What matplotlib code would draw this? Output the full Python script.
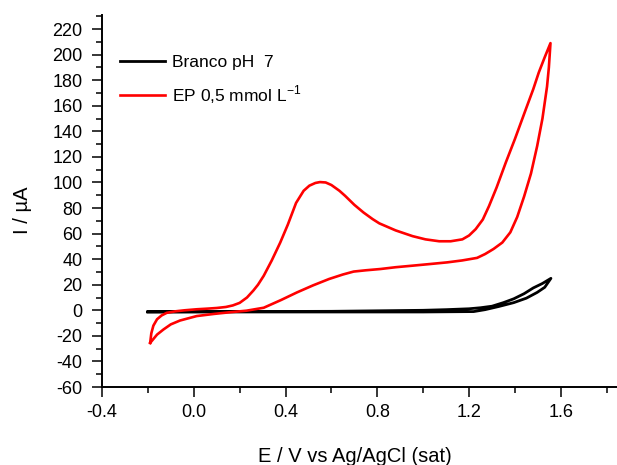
import numpy as np
import matplotlib
matplotlib.use("Agg")
import matplotlib.pyplot as plt
from matplotlib.ticker import MultipleLocator

plt.rcParams["font.family"] = ["Liberation Sans", "DejaVu Sans"]
plt.rcParams["mathtext.fontset"] = "custom"
plt.rcParams["mathtext.rm"] = "Liberation Sans"
plt.rcParams["axes.unicode_minus"] = False

# Voltamograma do branco (ida e volta)
e_branco = [-0.2, 0.0, 0.2, 0.6, 1.0, 1.1, 1.2, 1.25, 1.3, 1.35, 1.395, 1.44, 1.48, 1.52, 1.557,
            1.53, 1.497, 1.45, 1.395, 1.33, 1.27, 1.22, 1.0, 0.5, 0.0, -0.2]
i_branco = [-1.2, -1.1, -1.0, -0.8, 0.0, 0.5, 1.2, 2.0, 3.2, 6.0, 9.0, 13.0, 17.5, 21.0, 25.0,
            18.0, 14.0, 9.5, 6.0, 3.0, 0.5, -1.0, -1.3, -1.3, -1.3, -1.3]

# Voltamograma do EP 0,5 mmol/L - varredura anódica
e_ep_ida = [-0.19, -0.185, -0.176, -0.16, -0.14, -0.118, -0.08, -0.04, 0.013, 0.06, 0.10, 0.14,
            0.17, 0.20, 0.232, 0.26, 0.28, 0.305, 0.34, 0.377, 0.41, 0.446, 0.479, 0.504, 0.53,
            0.55, 0.575, 0.60, 0.635, 0.66, 0.70, 0.74, 0.78, 0.809, 0.88, 0.954, 1.01, 1.07,
            1.12, 1.171, 1.20, 1.229, 1.26, 1.287, 1.32, 1.36, 1.40, 1.447, 1.48, 1.504, 1.53,
            1.555]
i_ep_ida = [-25.5, -18, -12, -7, -4, -2, -0.8, 0, 0.8, 1.3, 1.8, 2.6,
            3.8, 5.8, 10, 15.5, 20, 27, 39, 53, 67, 84, 93.5, 97.5, 99.6,
            100.3, 100, 98, 93.5, 89.5, 82.5, 76.5, 71.3, 68, 62.5, 58, 55.5, 54,
            54, 55.5, 58.5, 63.5, 71, 81.5, 96, 115.5, 134, 157, 173, 186, 198,
            209]

# varredura catódica (volta)
e_ep_volta = [1.555, 1.548, 1.54, 1.52, 1.497, 1.47, 1.44, 1.41, 1.38, 1.345, 1.307, 1.27, 1.235,
              1.17, 1.105, 1.03, 0.959, 0.88, 0.814, 0.75, 0.697, 0.65, 0.59, 0.52, 0.45, 0.38,
              0.305, 0.23, 0.159, 0.09, 0.013, -0.06, -0.10, -0.132, -0.16, -0.19]
i_ep_volta = [209, 190, 175, 150, 128.5, 107, 89, 73, 61, 53, 48, 44, 41,
              39, 37.5, 36.2, 35, 33.7, 32.3, 31.3, 30.3, 28, 24.5, 19.5, 14, 8,
              2, -0.3, -1.5, -2.8, -4.5, -8, -11, -15, -19, -25.5]

e_ep = e_ep_ida + e_ep_volta
i_ep = i_ep_ida + i_ep_volta

fig = plt.figure(figsize=(6.17, 4.65), dpi=100)
ax = fig.add_axes([102 / 617, 1 - 387 / 465, 515 / 617, 372 / 465])

ax.plot(e_branco, i_branco, color="black", lw=2.0, label="Branco pH  7")
ax.plot(e_ep, i_ep, color="#ff0000", lw=1.9, label=r"EP 0,5 mmol L$^{-1}$")

ax.set_xlim(-0.4, 1.845)
ax.set_ylim(-60, 231)
ax.xaxis.set_major_locator(MultipleLocator(0.4))
ax.xaxis.set_minor_locator(MultipleLocator(0.2))
ax.set_yticks(np.arange(-60, 221, 20))
ax.yaxis.set_minor_locator(MultipleLocator(10))
ax.xaxis.set_major_formatter(plt.FuncFormatter(lambda v, p: f"{v:.1f}"))

for s in ["top", "right"]:
    ax.spines[s].set_visible(False)
for s in ["left", "bottom"]:
    ax.spines[s].set_linewidth(1.4)

ax.tick_params(which="major", direction="out", length=7, width=1.1, labelsize=13)
ax.tick_params(axis="y", which="major", pad=7)
ax.tick_params(axis="x", which="major", pad=5)
ax.tick_params(which="minor", direction="out", length=4, width=1.1)

ax.set_xlabel("E / V vs Ag/AgCl (sat)", fontsize=14.5)
ax.xaxis.set_label_coords(0.491, -0.16)
ax.set_ylabel("I / µA", fontsize=14.5)
ax.yaxis.set_label_coords(-0.135, 0.476)

ax.legend(loc="upper left", bbox_to_anchor=(0.035, 0.894), frameon=False, fontsize=12.5,
          handlelength=2.6, handletextpad=0.4, labelspacing=0.8, borderpad=0, borderaxespad=0)

fig.savefig("out.png", dpi=100)
